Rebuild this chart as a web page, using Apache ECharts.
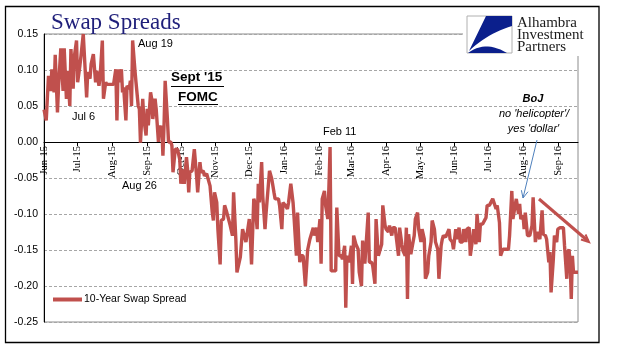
<!DOCTYPE html>
<html><head><meta charset="utf-8">
<script src="https://cdn.jsdelivr.net/npm/echarts@6/dist/echarts.min.js"></script>
<style>html,body{margin:0;padding:0;background:#fff}#c{width:622px;height:361px}</style>
</head><body><div id="c"></div>
<script>
// x values: calendar days since 1 Jun 2015
const monthStarts = [0,30,61,92,122,153,183,214,245,274,305,335,366,396,427,458];
const monthLabels = ['Jun-15','Jul-15','Aug-15','Sep-15','Oct-15','Nov-15','Dec-15','Jan-16','Feb-16','Mar-16','Apr-16','May-16','Jun-16','Jul-16','Aug-16','Sep-16'];
const seriesName = '10-Year Swap Spread';
const dayIndex = [
0,2,4,6,7,9,10,12,13,15,
17,18,20,21,23,24,26,27,29,30,
32,33,35,36,38,39,41,42,44,46,
47,49,50,52,53,55,56,58,60,62,
64,65,66,67,69,70,71,73,74,76,
77,78,79,81,82,84,85,86,88,89,
91,92,93,95,96,97,99,100,102,103,
104,105,106,107,108,110,111,113,114,115,
117,119,121,122,124,125,127,128,129,130,
132,134,136,137,139,140,142,143,145,148,
150,151,152,154,155,157,158,160,161,163,
166,168,169,171,172,174,175,177,178,180,
181,183,184,185,187,188,190,191,192,194,
195,197,198,201,203,205,206,209,210,212,
213,215,217,218,220,222,223,225,226,228,
229,231,233,235,237,240,241,243,244,246,
247,248,250,251,253,254,255,256,258,260,
261,263,265,266,268,269,270,271,272,274,
275,276,278,280,281,283,284,286,287,289,
290,292,293,295,296,298,299,301,302,304,
305,307,308,310,311,313,314,316,317,319,
320,322,323,324,325,327,328,330,331,333,
334,336,337,339,340,342,343,345,346,348,
349,351,352,354,355,356,358,359,361,362,
364,365,367,368,370,371,373,374,376,377,
379,380,382,383,385,386,388,389,391,392,
394,395,397,398,400,401,403,404,406,407,
409,411,412,414,415,417,418,420,421,423,
424,425,427,428,429,431,433,435,436,438,
439,440,442,444,445,447,448,450,451,452,
454,455,457,458,460,463,464,466,467,468,
469,470,471,472,476];
const spread = [
0.045,0.030,0.092,0.071,0.101,0.069,0.121,0.041,0.078,0.130,
0.071,0.130,0.060,0.099,0.050,0.129,0.074,0.118,0.141,0.083,
0.106,0.120,0.150,0.150,0.062,0.097,0.088,0.108,0.122,0.083,
0.099,0.078,0.090,0.141,0.060,0.083,0.080,0.080,0.080,0.080,
0.101,0.030,0.101,0.083,0.101,0.069,0.076,0.030,0.078,0.074,
0.085,0.050,0.141,0.101,0.083,0.050,0.046,-0.001,0.060,0.032,
0.009,0.046,0.023,0.069,0.060,0.032,0.060,0.046,0.000,0.023,
0.009,0.023,-0.019,0.023,0.085,0.032,0.000,0.000,-0.005,-0.042,
-0.010,-0.010,-0.024,-0.058,-0.038,-0.058,-0.021,-0.038,-0.070,-0.042,
-0.040,-0.010,-0.047,-0.070,-0.028,-0.042,-0.040,-0.047,-0.044,-0.061,
-0.098,-0.109,-0.070,-0.084,-0.121,-0.170,-0.109,-0.107,-0.088,-0.098,
-0.116,-0.130,-0.070,-0.135,-0.181,-0.167,-0.160,-0.121,-0.119,-0.139,
-0.139,-0.107,-0.135,-0.170,-0.079,-0.084,-0.121,-0.058,-0.084,-0.028,
-0.075,-0.121,-0.098,-0.040,-0.051,-0.070,-0.079,-0.079,-0.088,-0.121,
-0.084,-0.088,-0.093,-0.084,-0.058,-0.084,-0.107,-0.158,-0.098,-0.167,
-0.158,-0.158,-0.200,-0.150,-0.135,-0.119,-0.130,-0.119,-0.139,-0.107,
-0.169,-0.079,-0.068,-0.088,-0.107,-0.061,-0.007,-0.179,-0.179,-0.179,
-0.091,-0.158,-0.158,-0.163,-0.144,-0.230,-0.158,-0.160,-0.167,-0.144,
-0.197,-0.130,-0.142,-0.149,-0.181,-0.200,-0.137,-0.169,-0.167,-0.098,
-0.167,-0.167,-0.172,-0.197,-0.107,-0.158,-0.153,-0.142,-0.088,-0.116,
-0.121,-0.125,-0.116,-0.130,-0.119,-0.119,-0.119,-0.158,-0.119,-0.142,
-0.151,-0.158,-0.119,-0.218,-0.128,-0.156,-0.158,-0.130,-0.107,-0.098,
-0.121,-0.139,-0.121,-0.135,-0.190,-0.181,-0.158,-0.139,-0.109,-0.121,
-0.139,-0.149,-0.190,-0.144,-0.135,-0.130,-0.132,-0.130,-0.121,-0.135,
-0.139,-0.149,-0.121,-0.135,-0.119,-0.139,-0.139,-0.121,-0.139,-0.121,
-0.119,-0.158,-0.135,-0.121,-0.142,-0.100,-0.139,-0.114,-0.114,-0.112,
-0.105,-0.088,-0.088,-0.088,-0.079,-0.079,-0.093,-0.088,-0.112,-0.158,
-0.149,-0.149,-0.149,-0.149,-0.130,-0.068,-0.107,-0.088,-0.079,-0.100,
-0.086,-0.107,-0.102,-0.121,-0.098,-0.130,-0.130,-0.116,-0.077,-0.139,
-0.130,-0.125,-0.135,-0.095,-0.128,-0.130,-0.135,-0.167,-0.153,-0.209,
-0.163,-0.130,-0.139,-0.121,-0.119,-0.119,-0.144,-0.190,-0.153,-0.149,
-0.167,-0.218,-0.158,-0.181,-0.181];

const RED = '#c0504d';
const Y_MIN = -0.25, Y_MAX = 0.15, Y_STEP = 0.05;
const GRID = {left:44, right:44, top:34, bottom:39};
const chart = echarts.init(document.getElementById('c'), null, {renderer:'canvas'});
const data = dayIndex.map((d, i) => [d, spread[i]]);
// x axis sits at value 0 (labels hang below it)
const plotH = 361 - GRID.top - GRID.bottom;
const zeroOffset = -Math.round(plotH * (0 - Y_MIN) / (Y_MAX - Y_MIN));

function txt(x, y, s, opt) {
  return {type:'text', x:x, y:y, z:100, style:Object.assign({
    text:s, fill:'#000', font:'11px "Liberation Sans"', align:'left', verticalAlign:'middle'}, opt||{})};
}
function ln(points, color, w) {
  return {type:'polyline', z:100, shape:{points:points}, style:{stroke:color, lineWidth:w, fill:null}};
}
function quad(p0, c, p1, n) {
  const pts = [];
  for (let i = 0; i <= n; i++) {
    const t = i / n, u = 1 - t;
    pts.push([u*u*p0[0] + 2*u*t*c[0] + t*t*p1[0], u*u*p0[1] + 2*u*t*c[1] + t*t*p1[1]]);
  }
  return pts;
}
const logoA = [[486,16],[512,16]].concat(quad([512,26],[488,33],[469,51],12));
const logoB = [[468,53],[507,53]].concat(quad([507,53],[487,41],[471,51],12).slice(1));

chart.setOption({
  animation:false,
  backgroundColor:'#fff',
  grid:Object.assign({show:true, borderColor:'#8c8c8c', borderWidth:1, backgroundColor:'transparent'}, GRID),
  legend:{data:[seriesName], left:53, top:294, padding:0, icon:'rect', itemWidth:29, itemHeight:4, itemGap:4,
    textStyle:{fontFamily:'Liberation Sans', fontSize:10.5, color:'#000', padding:[0,0,0,-3]}},
  xAxis:{type:'value', min:0, max:476, position:'bottom', offset:zeroOffset,
    axisLine:{onZero:false, lineStyle:{color:'#000', width:1}},
    axisTick:{show:true, customValues:monthStarts, length:4, lineStyle:{color:'#000'}},
    axisLabel:{customValues:monthStarts, rotate:90, margin:4, color:'#000',
      fontFamily:'Liberation Serif', fontSize:10.5,
      formatter:v => monthLabels[monthStarts.indexOf(v)]},
    splitLine:{show:false}},
  yAxis:{type:'value', min:Y_MIN, max:Y_MAX, interval:Y_STEP,
    axisLine:{show:true, onZero:false, lineStyle:{color:'#000'}},
    axisTick:{show:false},
    axisLabel:{color:'#000', fontFamily:'Liberation Sans', fontSize:10.5, margin:6,
      formatter:v => (Math.abs(v) < 1e-9 ? 0 : v).toFixed(2)},
    splitLine:{lineStyle:{color:'#a6a6a6', type:[3,2], width:1}}},
  series:[{name:seriesName, type:'line', data:data, showSymbol:false, symbol:'none', z:3,
    lineStyle:{color:RED, width:3.4}, itemStyle:{color:RED}, emphasis:{disabled:true}}],
  graphic:[
    {type:'rect', z:99, shape:{x:463, y:8, width:134, height:48}, style:{fill:'#fff'}},
    {type:'rect', z:100, shape:{x:467, y:16, width:45, height:37}, style:{fill:'#fff', stroke:'#b0b0b0', lineWidth:1}},
    {type:'polygon', z:101, shape:{points:logoA}, style:{fill:'#0b1f8c'}},
    {type:'polygon', z:101, shape:{points:logoB}, style:{fill:'#0b1f8c'}},
    txt(517, 23, 'Alhambra', {font:'15px "Liberation Serif"', fill:'#1a1a1a'}),
    txt(517, 35, 'Investment', {font:'15px "Liberation Serif"', fill:'#1a1a1a'}),
    txt(517, 47, 'Partners', {font:'15px "Liberation Serif"', fill:'#1a1a1a'}),
    txt(51, 23, 'Swap Spreads', {font:'23px "Liberation Serif"', fill:'#1f1f7a'}),
    txt(72, 117, 'Jul 6'),
    txt(138, 44, 'Aug 19'),
    txt(122, 186, 'Aug 26'),
    txt(323, 132, 'Feb 11'),
    txt(171, 77, "Sept '15", {font:'bold 13.5px "Liberation Sans"'}),
    txt(178, 97, 'FOMC', {font:'bold 13.5px "Liberation Sans"'}),
    ln([[171,86.5],[224,86.5]], '#000', 1),
    ln([[178,104.5],[218,104.5]], '#000', 1),
    txt(533, 99, 'BoJ', {font:'italic bold 11px "Liberation Sans"', align:'center'}),
    txt(534, 114, "no 'helicopter'/", {font:'italic 11px "Liberation Sans"', align:'center'}),
    txt(533.5, 129, "yes 'dollar'", {font:'italic 11px "Liberation Sans"', align:'center'}),
    ln([[537,140],[523,198]], '#4f81bd', 1),
    ln([[521.4,190.2],[523,198],[528,191.7]], '#4f81bd', 1),
    ln([[539,199],[588,241]], RED, 3),
    ln([[581,239.5],[589,242],[585.5,234.5]], RED, 2),
    {type:'rect', z:100, shape:{x:5.5, y:6.5, width:593.5, height:336}, style:{fill:null, stroke:'#000', lineWidth:1.3}}
  ]
});
</script></body></html>
